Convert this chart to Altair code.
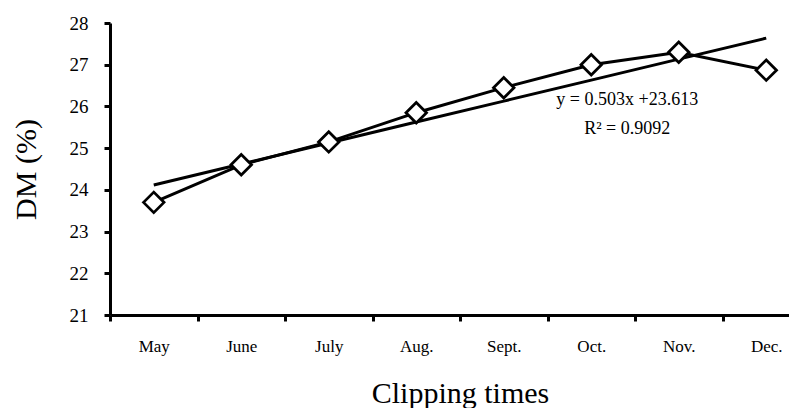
import altair as alt
import pandas as pd

months = ["May", "June", "July", "Aug.", "Sept.", "Oct.", "Nov.", "Dec."]
dm = [23.7, 24.6, 25.15, 25.85, 26.45, 27.0, 27.3, 26.87]
slope = 0.503
intercept = 23.613
eq_text = ["y = 0.503x +23.613", "R² = 0.9092"]
eq_y = [26.15, 25.47]

df = pd.DataFrame({"month": months, "dm": dm,
                   "trend": [slope * (i + 1) + intercept for i in range(len(months))]})
ann = pd.DataFrame({"month": ["Oct.", "Oct."], "y": eq_y, "t": eq_text})

FONT = "Liberation Serif"
xscale = alt.Scale(type="band", paddingInner=0, paddingOuter=0)
xaxis = alt.Axis(title="Clipping times", tickBand="extent", labelAngle=0)
xenc = alt.X("month:N", sort=months, scale=xscale, axis=xaxis)
yscale = alt.Scale(domain=[21, 28], nice=False, zero=False)
yaxis = alt.Axis(title="DM (%)", values=[21, 22, 23, 24, 25, 26, 27, 28])

base = alt.Chart(df)
trend = base.mark_line(color="black", strokeWidth=3).encode(
    x=xenc, y=alt.Y("trend:Q", scale=yscale, axis=yaxis))
line = base.mark_line(color="black", strokeWidth=3).encode(
    x=xenc, y=alt.Y("dm:Q", scale=yscale, axis=yaxis))
pts = base.mark_point(shape="diamond", filled=True, fill="white", stroke="black",
                      strokeWidth=2.8, size=420, opacity=1).encode(
    x=xenc, y=alt.Y("dm:Q", scale=yscale, axis=yaxis))
txt = alt.Chart(ann).mark_text(font=FONT, fontSize=18, dx=36, color="black").encode(
    x=alt.X("month:N", sort=months, scale=xscale, axis=xaxis),
    y=alt.Y("y:Q", scale=yscale, axis=yaxis), text="t:N")

chart = alt.layer(trend, line, pts, txt).properties(
    width=700, height=292,
    padding={"left": 3, "top": 6, "right": -23, "bottom": 0}
).configure_view(stroke=None).configure_axis(
    domainColor="black", domainWidth=3, tickColor="black", tickWidth=3, tickSize=6,
    grid=False, labelFont=FONT, titleFont=FONT, labelColor="black", titleColor="black",
    titleFontWeight="normal"
).configure_axisX(
    labelFontSize=17, labelPadding=17, titleFontSize=30, titlePadding=24
).configure_axisY(
    labelFontSize=19, labelPadding=16, titleFontSize=30, titlePadding=28
)

chart.save("out.html", embed_options={"renderer": "svg", "actions": False})
